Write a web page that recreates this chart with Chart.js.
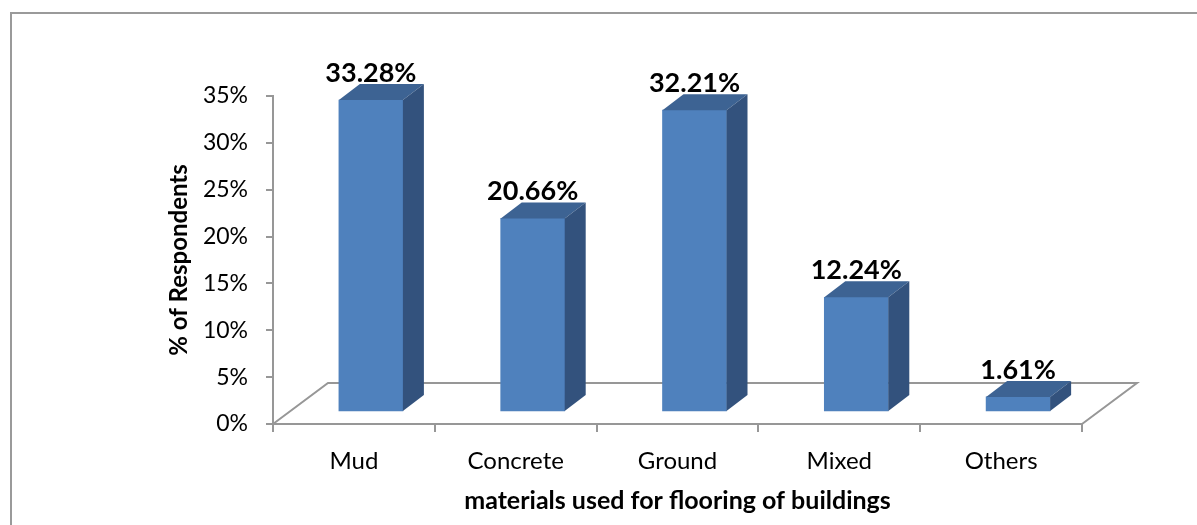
<!DOCTYPE html>
<html>
<head>
<meta charset="utf-8">
<script src="https://cdn.jsdelivr.net/npm/chart.js@4.4.0/dist/chart.umd.min.js"></script>
<style>
    html, body { margin: 0; padding: 0; background: #ffffff; }
    #wrap { width: 1197px; height: 525px; }
</style>
</head>
<body>
<div id="wrap"><canvas id="floorChart" width="1197" height="525"></canvas></div>
<script>
// Chart data
const categories = ['Mud', 'Concrete', 'Ground', 'Mixed', 'Others'];
const percentValues = [33.28, 20.66, 32.21, 12.24, 1.61];
const yTicks = [0, 5, 10, 15, 20, 25, 30, 35];

// 3D look
const FRONT_COLOR = '#4F81BD';
const TOP_COLOR = '#3D6393';
const SIDE_COLOR = '#33527D';
const AXIS_COLOR = '#979797';
const BAR_SHIFT = { x: 17, y: -12 };   // bars sit half way back on the floor
const BAR_DEPTH = { x: 21, y: -16 };
const FLOOR_DEPTH = { x: 55, y: -41 };

const frameBorder = {
    id: 'frameBorder',
    beforeDraw(chart) {
        const ctx = chart.ctx;
        ctx.save();
        ctx.strokeStyle = '#9a9a9a';
        ctx.lineWidth = 2;
        ctx.strokeRect(11, 13, 1400, 800);
        ctx.restore();
    }
};

const floor3d = {
    id: 'floor3d',
    beforeDatasetsDraw(chart) {
        const { ctx, chartArea } = chart;
        const { left, right, bottom } = chartArea;
        ctx.save();
        ctx.strokeStyle = AXIS_COLOR;
        ctx.lineWidth = 2;
        ctx.beginPath();
        ctx.moveTo(left, bottom);
        ctx.lineTo(left + FLOOR_DEPTH.x, bottom + FLOOR_DEPTH.y);
        ctx.lineTo(right + FLOOR_DEPTH.x, bottom + FLOOR_DEPTH.y);
        ctx.lineTo(right, bottom);
        ctx.stroke();
        ctx.restore();

        // move bars back onto the middle of the floor
        ctx.save();
        ctx.translate(BAR_SHIFT.x, BAR_SHIFT.y);
    },
    afterDatasetsDraw(chart) {
        const ctx = chart.ctx;
        const meta = chart.getDatasetMeta(0);
        meta.data.forEach((bar, i) => {
            const half = bar.width / 2;
            const l = bar.x - half;
            const r = bar.x + half;
            const t = bar.y;
            const b = bar.base;

            // top face
            ctx.fillStyle = TOP_COLOR;
            ctx.beginPath();
            ctx.moveTo(l, t);
            ctx.lineTo(l + BAR_DEPTH.x, t + BAR_DEPTH.y);
            ctx.lineTo(r + BAR_DEPTH.x, t + BAR_DEPTH.y);
            ctx.lineTo(r, t);
            ctx.closePath();
            ctx.fill();

            // side face
            ctx.fillStyle = SIDE_COLOR;
            ctx.beginPath();
            ctx.moveTo(r, t);
            ctx.lineTo(r + BAR_DEPTH.x, t + BAR_DEPTH.y);
            ctx.lineTo(r + BAR_DEPTH.x, b + BAR_DEPTH.y);
            ctx.lineTo(r, b);
            ctx.closePath();
            ctx.fill();

            // value label
            ctx.fillStyle = '#000000';
            ctx.font = 'bold 27px Lato';
            ctx.textAlign = 'center';
            ctx.textBaseline = 'alphabetic';
            ctx.fillText(percentValues[i].toFixed(2) + '%', bar.x, t + BAR_DEPTH.y - 2);
        });
        ctx.restore();
    }
};

const ctx = document.getElementById('floorChart').getContext('2d');
new Chart(ctx, {
    type: 'bar',
    data: {
        labels: categories,
        datasets: [{
            label: '% of Respondents',
            data: percentValues,
            backgroundColor: FRONT_COLOR,
            borderWidth: 0,
            barThickness: 64,
            clip: false
        }]
    },
    options: {
        responsive: false,
        animation: false,
        layout: { padding: { top: 96, right: 115, left: 0, bottom: 0 } },
        plugins: {
            legend: { display: false },
            tooltip: { enabled: false }
        },
        scales: {
            x: {
                offset: true,
                grid: {
                    offset: true,
                    drawOnChartArea: false,
                    drawTicks: true,
                    tickLength: 8,
                    color: AXIS_COLOR,
                    lineWidth: 2
                },
                border: { display: true, color: AXIS_COLOR, width: 2 },
                ticks: {
                    color: '#000000',
                    font: { family: 'Lato', size: 24 },
                    padding: 15
                },
                title: {
                    display: true,
                    text: 'materials used for flooring of buildings',
                    color: '#000000',
                    font: { family: 'Lato', size: 25, weight: 'bold' },
                    padding: { top: 0, bottom: 9 }
                },
                afterFit(scale) { scale.height = 101; }
            },
            y: {
                min: 0,
                max: 35,
                afterBuildTicks(scale) {
                    scale.ticks = yTicks.map(v => ({ value: v }));
                },
                grid: {
                    drawOnChartArea: false,
                    drawTicks: true,
                    tickLength: 7,
                    color: AXIS_COLOR,
                    lineWidth: 2
                },
                border: { display: true, color: AXIS_COLOR, width: 2 },
                ticks: {
                    color: '#000000',
                    font: { family: 'Lato', size: 23 },
                    padding: 18,
                    callback: v => v + '%'
                },
                title: {
                    display: true,
                    text: '% of Respondents',
                    color: '#000000',
                    font: { family: 'Lato', size: 24, weight: 'bold' },
                    padding: { top: 165, bottom: 0 }
                },
                afterFit(scale) { scale.width = 273; }
            }
        }
    },
    plugins: [frameBorder, floor3d]
});
</script>
</body>
</html>
